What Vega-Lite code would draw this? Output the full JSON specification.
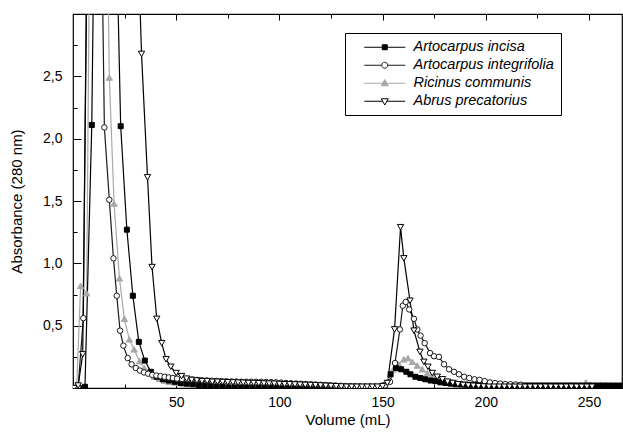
{
"$schema": "https://vega.github.io/schema/vega-lite/v6.json",
"width": 549, "height": 374,
"autosize": {"type": "none"},
"padding": {"left": 73, "top": 14, "right": 1, "bottom": 50},
"background": "white",
"config": {
  "view": {"stroke": "black", "strokeWidth": 1.2},
  "font": "Liberation Sans",
  "axis": {"grid": false, "domainColor": "black", "tickColor": "black", "labelColor": "black", "titleColor": "black", "labelFont": "Liberation Sans", "titleFont": "Liberation Sans", "labelFontSize": 14, "titleFontSize": 15, "titleFontWeight": "normal", "tickWidth": 1},
  "legend": {"title": null, "orient": "none", "legendX": 272, "legendY": 19, "padding": 7, "strokeColor": "black", "fillColor": "white", "symbolSize": 100, "labelOffset": 47, "labelFont": "Liberation Sans", "labelFontSize": 14.5, "labelFontStyle": "italic", "labelColor": "black", "rowPadding": 3, "symbolStrokeWidth": 1, "symbolOpacity": 1}
},
"data": {"values": [
{"series":"Ricinus communis","volume":0.5,"absorbance":0},
{"series":"Ricinus communis","volume":1.8,"absorbance":0.02},
{"series":"Ricinus communis","volume":3.7,"absorbance":0.82},
{"series":"Ricinus communis","volume":6.6,"absorbance":0.76},
{"series":"Ricinus communis","volume":9,"absorbance":5.5},
{"series":"Ricinus communis","volume":15.2,"absorbance":5.5},
{"series":"Ricinus communis","volume":17.6,"absorbance":2.49},
{"series":"Ricinus communis","volume":19.9,"absorbance":1.48},
{"series":"Ricinus communis","volume":22.5,"absorbance":0.88},
{"series":"Ricinus communis","volume":24.9,"absorbance":0.555},
{"series":"Ricinus communis","volume":27.3,"absorbance":0.39},
{"series":"Ricinus communis","volume":29.6,"absorbance":0.31},
{"series":"Ricinus communis","volume":32.2,"absorbance":0.215},
{"series":"Ricinus communis","volume":34.6,"absorbance":0.16},
{"series":"Ricinus communis","volume":37,"absorbance":0.12},
{"series":"Ricinus communis","volume":39.4,"absorbance":0.09},
{"series":"Ricinus communis","volume":41.8,"absorbance":0.075},
{"series":"Ricinus communis","volume":44.2,"absorbance":0.06},
{"series":"Ricinus communis","volume":46.6,"absorbance":0.05},
{"series":"Ricinus communis","volume":49,"absorbance":0.045},
{"series":"Ricinus communis","volume":51.4,"absorbance":0.04},
{"series":"Ricinus communis","volume":53.8,"absorbance":0.035},
{"series":"Ricinus communis","volume":56.2,"absorbance":0.03},
{"series":"Ricinus communis","volume":58.6,"absorbance":0.028},
{"series":"Ricinus communis","volume":61,"absorbance":0.025},
{"series":"Ricinus communis","volume":63.4,"absorbance":0.022},
{"series":"Ricinus communis","volume":65.8,"absorbance":0.02},
{"series":"Ricinus communis","volume":68.2,"absorbance":0.018},
{"series":"Ricinus communis","volume":70.6,"absorbance":0.016},
{"series":"Ricinus communis","volume":73,"absorbance":0.015},
{"series":"Ricinus communis","volume":75.4,"absorbance":0.014},
{"series":"Ricinus communis","volume":77.8,"absorbance":0.013},
{"series":"Ricinus communis","volume":80.2,"absorbance":0.012},
{"series":"Ricinus communis","volume":82.6,"absorbance":0.012},
{"series":"Ricinus communis","volume":85,"absorbance":0.012},
{"series":"Ricinus communis","volume":87.4,"absorbance":0.012},
{"series":"Ricinus communis","volume":89.8,"absorbance":0.012},
{"series":"Ricinus communis","volume":92.2,"absorbance":0.012},
{"series":"Ricinus communis","volume":94.6,"absorbance":0.012},
{"series":"Ricinus communis","volume":97,"absorbance":0.012},
{"series":"Ricinus communis","volume":99.4,"absorbance":0.012},
{"series":"Ricinus communis","volume":101.8,"absorbance":0.012},
{"series":"Ricinus communis","volume":104.2,"absorbance":0.012},
{"series":"Ricinus communis","volume":106.6,"absorbance":0.012},
{"series":"Ricinus communis","volume":109,"absorbance":0.012},
{"series":"Ricinus communis","volume":111.4,"absorbance":0.012},
{"series":"Ricinus communis","volume":113.8,"absorbance":0.012},
{"series":"Ricinus communis","volume":116.2,"absorbance":0.012},
{"series":"Ricinus communis","volume":118.6,"absorbance":0.012},
{"series":"Ricinus communis","volume":121,"absorbance":0.012},
{"series":"Ricinus communis","volume":123.4,"absorbance":0.012},
{"series":"Ricinus communis","volume":125.8,"absorbance":0.012},
{"series":"Ricinus communis","volume":128.2,"absorbance":0.012},
{"series":"Ricinus communis","volume":130.6,"absorbance":0.012},
{"series":"Ricinus communis","volume":133,"absorbance":0.012},
{"series":"Ricinus communis","volume":135.4,"absorbance":0.012},
{"series":"Ricinus communis","volume":137.8,"absorbance":0.012},
{"series":"Ricinus communis","volume":140.2,"absorbance":0.012},
{"series":"Ricinus communis","volume":142.6,"absorbance":0.012},
{"series":"Ricinus communis","volume":145,"absorbance":0.012},
{"series":"Ricinus communis","volume":147.4,"absorbance":0.014},
{"series":"Ricinus communis","volume":150,"absorbance":0.02},
{"series":"Ricinus communis","volume":152.6,"absorbance":0.06},
{"series":"Ricinus communis","volume":155.2,"absorbance":0.15},
{"series":"Ricinus communis","volume":157.9,"absorbance":0.19},
{"series":"Ricinus communis","volume":160.3,"absorbance":0.23},
{"series":"Ricinus communis","volume":162.3,"absorbance":0.24},
{"series":"Ricinus communis","volume":164.4,"absorbance":0.21},
{"series":"Ricinus communis","volume":166.8,"absorbance":0.18},
{"series":"Ricinus communis","volume":169.2,"absorbance":0.15},
{"series":"Ricinus communis","volume":171.7,"absorbance":0.12},
{"series":"Ricinus communis","volume":174,"absorbance":0.1},
{"series":"Ricinus communis","volume":176.4,"absorbance":0.08},
{"series":"Ricinus communis","volume":178.8,"absorbance":0.065},
{"series":"Ricinus communis","volume":181.2,"absorbance":0.055},
{"series":"Ricinus communis","volume":183.6,"absorbance":0.05},
{"series":"Ricinus communis","volume":186,"absorbance":0.045},
{"series":"Ricinus communis","volume":188.4,"absorbance":0.04},
{"series":"Ricinus communis","volume":190.8,"absorbance":0.036},
{"series":"Ricinus communis","volume":193.2,"absorbance":0.033},
{"series":"Ricinus communis","volume":195.6,"absorbance":0.03},
{"series":"Ricinus communis","volume":198,"absorbance":0.03},
{"series":"Ricinus communis","volume":200.4,"absorbance":0.028},
{"series":"Ricinus communis","volume":202.8,"absorbance":0.027},
{"series":"Ricinus communis","volume":205.2,"absorbance":0.026},
{"series":"Ricinus communis","volume":207.6,"absorbance":0.025},
{"series":"Ricinus communis","volume":210,"absorbance":0.025},
{"series":"Ricinus communis","volume":212.4,"absorbance":0.025},
{"series":"Ricinus communis","volume":214.8,"absorbance":0.025},
{"series":"Ricinus communis","volume":217.2,"absorbance":0.025},
{"series":"Ricinus communis","volume":219.6,"absorbance":0.025},
{"series":"Ricinus communis","volume":222,"absorbance":0.025},
{"series":"Ricinus communis","volume":224.4,"absorbance":0.024},
{"series":"Ricinus communis","volume":226.8,"absorbance":0.024},
{"series":"Ricinus communis","volume":229.2,"absorbance":0.024},
{"series":"Ricinus communis","volume":231.6,"absorbance":0.024},
{"series":"Ricinus communis","volume":234,"absorbance":0.024},
{"series":"Ricinus communis","volume":236.4,"absorbance":0.024},
{"series":"Ricinus communis","volume":238.8,"absorbance":0.024},
{"series":"Ricinus communis","volume":241.2,"absorbance":0.024},
{"series":"Ricinus communis","volume":243.6,"absorbance":0.025},
{"series":"Ricinus communis","volume":246,"absorbance":0.026},
{"series":"Ricinus communis","volume":248.5,"absorbance":0.045},
{"series":"Ricinus communis","volume":250.8,"absorbance":0.025},
{"series":"Ricinus communis","volume":253.2,"absorbance":0.024},
{"series":"Ricinus communis","volume":255.6,"absorbance":0.024},
{"series":"Artocarpus incisa","volume":0.5,"absorbance":0},
{"series":"Artocarpus incisa","volume":3,"absorbance":0},
{"series":"Artocarpus incisa","volume":5.8,"absorbance":0.01},
{"series":"Artocarpus incisa","volume":9.1,"absorbance":2.11},
{"series":"Artocarpus incisa","volume":11.5,"absorbance":5.5},
{"series":"Artocarpus incisa","volume":20.2,"absorbance":4.3},
{"series":"Artocarpus incisa","volume":23.1,"absorbance":2.1},
{"series":"Artocarpus incisa","volume":26.1,"absorbance":1.27},
{"series":"Artocarpus incisa","volume":29,"absorbance":0.74},
{"series":"Artocarpus incisa","volume":31.9,"absorbance":0.37},
{"series":"Artocarpus incisa","volume":34.8,"absorbance":0.22},
{"series":"Artocarpus incisa","volume":37.7,"absorbance":0.13},
{"series":"Artocarpus incisa","volume":40.6,"absorbance":0.09},
{"series":"Artocarpus incisa","volume":43.5,"absorbance":0.07},
{"series":"Artocarpus incisa","volume":46.4,"absorbance":0.06},
{"series":"Artocarpus incisa","volume":49.3,"absorbance":0.05},
{"series":"Artocarpus incisa","volume":52.2,"absorbance":0.04},
{"series":"Artocarpus incisa","volume":55.1,"absorbance":0.035},
{"series":"Artocarpus incisa","volume":58,"absorbance":0.03},
{"series":"Artocarpus incisa","volume":60.9,"absorbance":0.025},
{"series":"Artocarpus incisa","volume":63.8,"absorbance":0.02},
{"series":"Artocarpus incisa","volume":66.7,"absorbance":0.015},
{"series":"Artocarpus incisa","volume":69.6,"absorbance":0.01},
{"series":"Artocarpus incisa","volume":72.5,"absorbance":0.008},
{"series":"Artocarpus incisa","volume":75.4,"absorbance":0.005},
{"series":"Artocarpus incisa","volume":78.3,"absorbance":0.004},
{"series":"Artocarpus incisa","volume":81.2,"absorbance":0.003},
{"series":"Artocarpus incisa","volume":84.1,"absorbance":0.003},
{"series":"Artocarpus incisa","volume":87,"absorbance":0.002},
{"series":"Artocarpus incisa","volume":89.9,"absorbance":0.002},
{"series":"Artocarpus incisa","volume":92.8,"absorbance":0.002},
{"series":"Artocarpus incisa","volume":95.7,"absorbance":0.002},
{"series":"Artocarpus incisa","volume":98.6,"absorbance":0.002},
{"series":"Artocarpus incisa","volume":101.5,"absorbance":0.002},
{"series":"Artocarpus incisa","volume":104.4,"absorbance":0.002},
{"series":"Artocarpus incisa","volume":107.3,"absorbance":0.002},
{"series":"Artocarpus incisa","volume":110.2,"absorbance":0.002},
{"series":"Artocarpus incisa","volume":113.1,"absorbance":0.002},
{"series":"Artocarpus incisa","volume":116,"absorbance":0.002},
{"series":"Artocarpus incisa","volume":118.9,"absorbance":0.002},
{"series":"Artocarpus incisa","volume":121.8,"absorbance":0.002},
{"series":"Artocarpus incisa","volume":124.7,"absorbance":0.002},
{"series":"Artocarpus incisa","volume":127.6,"absorbance":0.002},
{"series":"Artocarpus incisa","volume":130.5,"absorbance":0.002},
{"series":"Artocarpus incisa","volume":133.4,"absorbance":0.002},
{"series":"Artocarpus incisa","volume":136.3,"absorbance":0.002},
{"series":"Artocarpus incisa","volume":139.2,"absorbance":0.002},
{"series":"Artocarpus incisa","volume":142.1,"absorbance":0.003},
{"series":"Artocarpus incisa","volume":145,"absorbance":0.003},
{"series":"Artocarpus incisa","volume":147.9,"absorbance":0.005},
{"series":"Artocarpus incisa","volume":150.8,"absorbance":0.02},
{"series":"Artocarpus incisa","volume":153.9,"absorbance":0.11},
{"series":"Artocarpus incisa","volume":156.5,"absorbance":0.16},
{"series":"Artocarpus incisa","volume":159,"absorbance":0.15},
{"series":"Artocarpus incisa","volume":161.5,"absorbance":0.13},
{"series":"Artocarpus incisa","volume":163.5,"absorbance":0.11},
{"series":"Artocarpus incisa","volume":165.9,"absorbance":0.09},
{"series":"Artocarpus incisa","volume":168.3,"absorbance":0.08},
{"series":"Artocarpus incisa","volume":170.7,"absorbance":0.07},
{"series":"Artocarpus incisa","volume":173.2,"absorbance":0.06},
{"series":"Artocarpus incisa","volume":175.6,"absorbance":0.055},
{"series":"Artocarpus incisa","volume":178,"absorbance":0.045},
{"series":"Artocarpus incisa","volume":180.5,"absorbance":0.04},
{"series":"Artocarpus incisa","volume":183,"absorbance":0.035},
{"series":"Artocarpus incisa","volume":185.5,"absorbance":0.03},
{"series":"Artocarpus incisa","volume":188,"absorbance":0.028},
{"series":"Artocarpus incisa","volume":190.5,"absorbance":0.026},
{"series":"Artocarpus incisa","volume":193,"absorbance":0.025},
{"series":"Artocarpus incisa","volume":195.5,"absorbance":0.024},
{"series":"Artocarpus incisa","volume":198,"absorbance":0.023},
{"series":"Artocarpus incisa","volume":200.5,"absorbance":0.022},
{"series":"Artocarpus incisa","volume":203,"absorbance":0.021},
{"series":"Artocarpus incisa","volume":205.5,"absorbance":0.02},
{"series":"Artocarpus incisa","volume":208,"absorbance":0.02},
{"series":"Artocarpus incisa","volume":210.5,"absorbance":0.02},
{"series":"Artocarpus incisa","volume":213,"absorbance":0.02},
{"series":"Artocarpus incisa","volume":215.5,"absorbance":0.02},
{"series":"Artocarpus incisa","volume":218,"absorbance":0.02},
{"series":"Artocarpus incisa","volume":220.5,"absorbance":0.02},
{"series":"Artocarpus incisa","volume":223,"absorbance":0.02},
{"series":"Artocarpus incisa","volume":225.5,"absorbance":0.02},
{"series":"Artocarpus incisa","volume":228,"absorbance":0.02},
{"series":"Artocarpus incisa","volume":230.5,"absorbance":0.02},
{"series":"Artocarpus incisa","volume":233,"absorbance":0.02},
{"series":"Artocarpus incisa","volume":235.5,"absorbance":0.02},
{"series":"Artocarpus incisa","volume":238,"absorbance":0.02},
{"series":"Artocarpus incisa","volume":240.5,"absorbance":0.02},
{"series":"Artocarpus incisa","volume":243,"absorbance":0.02},
{"series":"Artocarpus incisa","volume":245.5,"absorbance":0.02},
{"series":"Artocarpus incisa","volume":248,"absorbance":0.02},
{"series":"Artocarpus incisa","volume":250.5,"absorbance":0.02},
{"series":"Artocarpus incisa","volume":253,"absorbance":0.02},
{"series":"Artocarpus incisa","volume":255.5,"absorbance":0.02},
{"series":"Artocarpus incisa","volume":258,"absorbance":0.02},
{"series":"Artocarpus incisa","volume":260.5,"absorbance":0.02},
{"series":"Artocarpus incisa","volume":263,"absorbance":0.02},
{"series":"Artocarpus incisa","volume":265.5,"absorbance":0.02},
{"series":"Artocarpus integrifolia","volume":0.5,"absorbance":0},
{"series":"Artocarpus integrifolia","volume":2.5,"absorbance":0.01},
{"series":"Artocarpus integrifolia","volume":5,"absorbance":0.56},
{"series":"Artocarpus integrifolia","volume":7.5,"absorbance":5},
{"series":"Artocarpus integrifolia","volume":12.8,"absorbance":5},
{"series":"Artocarpus integrifolia","volume":15.2,"absorbance":2.09},
{"series":"Artocarpus integrifolia","volume":17.6,"absorbance":1.51},
{"series":"Artocarpus integrifolia","volume":19.6,"absorbance":1.04},
{"series":"Artocarpus integrifolia","volume":21.2,"absorbance":0.74},
{"series":"Artocarpus integrifolia","volume":22.8,"absorbance":0.46},
{"series":"Artocarpus integrifolia","volume":24.4,"absorbance":0.34},
{"series":"Artocarpus integrifolia","volume":26.5,"absorbance":0.24},
{"series":"Artocarpus integrifolia","volume":28.4,"absorbance":0.19},
{"series":"Artocarpus integrifolia","volume":30.4,"absorbance":0.16},
{"series":"Artocarpus integrifolia","volume":32.4,"absorbance":0.14},
{"series":"Artocarpus integrifolia","volume":34.4,"absorbance":0.125},
{"series":"Artocarpus integrifolia","volume":36.4,"absorbance":0.115},
{"series":"Artocarpus integrifolia","volume":38.4,"absorbance":0.105},
{"series":"Artocarpus integrifolia","volume":40.4,"absorbance":0.1},
{"series":"Artocarpus integrifolia","volume":42.4,"absorbance":0.095},
{"series":"Artocarpus integrifolia","volume":44.4,"absorbance":0.09},
{"series":"Artocarpus integrifolia","volume":46.4,"absorbance":0.085},
{"series":"Artocarpus integrifolia","volume":48.4,"absorbance":0.08},
{"series":"Artocarpus integrifolia","volume":50.4,"absorbance":0.075},
{"series":"Artocarpus integrifolia","volume":52.8,"absorbance":0.072},
{"series":"Artocarpus integrifolia","volume":55.2,"absorbance":0.07},
{"series":"Artocarpus integrifolia","volume":57.6,"absorbance":0.068},
{"series":"Artocarpus integrifolia","volume":60,"absorbance":0.065},
{"series":"Artocarpus integrifolia","volume":62.4,"absorbance":0.062},
{"series":"Artocarpus integrifolia","volume":64.8,"absorbance":0.06},
{"series":"Artocarpus integrifolia","volume":67.2,"absorbance":0.058},
{"series":"Artocarpus integrifolia","volume":69.6,"absorbance":0.056},
{"series":"Artocarpus integrifolia","volume":72,"absorbance":0.055},
{"series":"Artocarpus integrifolia","volume":74.4,"absorbance":0.054},
{"series":"Artocarpus integrifolia","volume":76.8,"absorbance":0.053},
{"series":"Artocarpus integrifolia","volume":79.2,"absorbance":0.052},
{"series":"Artocarpus integrifolia","volume":81.6,"absorbance":0.05},
{"series":"Artocarpus integrifolia","volume":84,"absorbance":0.05},
{"series":"Artocarpus integrifolia","volume":86.4,"absorbance":0.05},
{"series":"Artocarpus integrifolia","volume":88.8,"absorbance":0.05},
{"series":"Artocarpus integrifolia","volume":91.2,"absorbance":0.05},
{"series":"Artocarpus integrifolia","volume":93.6,"absorbance":0.048},
{"series":"Artocarpus integrifolia","volume":96,"absorbance":0.047},
{"series":"Artocarpus integrifolia","volume":98.4,"absorbance":0.045},
{"series":"Artocarpus integrifolia","volume":100.8,"absorbance":0.043},
{"series":"Artocarpus integrifolia","volume":103.2,"absorbance":0.04},
{"series":"Artocarpus integrifolia","volume":105.6,"absorbance":0.038},
{"series":"Artocarpus integrifolia","volume":108,"absorbance":0.036},
{"series":"Artocarpus integrifolia","volume":110.4,"absorbance":0.034},
{"series":"Artocarpus integrifolia","volume":112.8,"absorbance":0.032},
{"series":"Artocarpus integrifolia","volume":115.2,"absorbance":0.03},
{"series":"Artocarpus integrifolia","volume":117.6,"absorbance":0.028},
{"series":"Artocarpus integrifolia","volume":120,"absorbance":0.026},
{"series":"Artocarpus integrifolia","volume":122.4,"absorbance":0.024},
{"series":"Artocarpus integrifolia","volume":124.8,"absorbance":0.022},
{"series":"Artocarpus integrifolia","volume":127.2,"absorbance":0.02},
{"series":"Artocarpus integrifolia","volume":129.6,"absorbance":0.018},
{"series":"Artocarpus integrifolia","volume":132,"absorbance":0.016},
{"series":"Artocarpus integrifolia","volume":134.4,"absorbance":0.015},
{"series":"Artocarpus integrifolia","volume":136.8,"absorbance":0.014},
{"series":"Artocarpus integrifolia","volume":139.2,"absorbance":0.013},
{"series":"Artocarpus integrifolia","volume":141.6,"absorbance":0.012},
{"series":"Artocarpus integrifolia","volume":144,"absorbance":0.012},
{"series":"Artocarpus integrifolia","volume":146.4,"absorbance":0.012},
{"series":"Artocarpus integrifolia","volume":148.8,"absorbance":0.012},
{"series":"Artocarpus integrifolia","volume":151.2,"absorbance":0.02},
{"series":"Artocarpus integrifolia","volume":153.6,"absorbance":0.05},
{"series":"Artocarpus integrifolia","volume":156,"absorbance":0.2},
{"series":"Artocarpus integrifolia","volume":158.4,"absorbance":0.47},
{"series":"Artocarpus integrifolia","volume":159.8,"absorbance":0.66},
{"series":"Artocarpus integrifolia","volume":161.2,"absorbance":0.69},
{"series":"Artocarpus integrifolia","volume":162.9,"absorbance":0.63},
{"series":"Artocarpus integrifolia","volume":165.2,"absorbance":0.555},
{"series":"Artocarpus integrifolia","volume":166.8,"absorbance":0.47},
{"series":"Artocarpus integrifolia","volume":168.4,"absorbance":0.42},
{"series":"Artocarpus integrifolia","volume":170.4,"absorbance":0.36},
{"series":"Artocarpus integrifolia","volume":173,"absorbance":0.28},
{"series":"Artocarpus integrifolia","volume":174.9,"absorbance":0.255},
{"series":"Artocarpus integrifolia","volume":177.3,"absorbance":0.25},
{"series":"Artocarpus integrifolia","volume":179.8,"absorbance":0.19},
{"series":"Artocarpus integrifolia","volume":182.2,"absorbance":0.15},
{"series":"Artocarpus integrifolia","volume":184.6,"absorbance":0.13},
{"series":"Artocarpus integrifolia","volume":187,"absorbance":0.11},
{"series":"Artocarpus integrifolia","volume":189.5,"absorbance":0.09},
{"series":"Artocarpus integrifolia","volume":192,"absorbance":0.08},
{"series":"Artocarpus integrifolia","volume":194.5,"absorbance":0.07},
{"series":"Artocarpus integrifolia","volume":197,"absorbance":0.065},
{"series":"Artocarpus integrifolia","volume":199.5,"absorbance":0.055},
{"series":"Artocarpus integrifolia","volume":202,"absorbance":0.045},
{"series":"Artocarpus integrifolia","volume":204.5,"absorbance":0.04},
{"series":"Artocarpus integrifolia","volume":207,"absorbance":0.035},
{"series":"Artocarpus integrifolia","volume":209.5,"absorbance":0.032},
{"series":"Artocarpus integrifolia","volume":212,"absorbance":0.03},
{"series":"Artocarpus integrifolia","volume":214.5,"absorbance":0.028},
{"series":"Artocarpus integrifolia","volume":217,"absorbance":0.026},
{"series":"Abrus precatorius","volume":0.5,"absorbance":0},
{"series":"Abrus precatorius","volume":2.5,"absorbance":0.02},
{"series":"Abrus precatorius","volume":4.7,"absorbance":0.27},
{"series":"Abrus precatorius","volume":7.5,"absorbance":4.5},
{"series":"Abrus precatorius","volume":10,"absorbance":6},
{"series":"Abrus precatorius","volume":30.3,"absorbance":4.2},
{"series":"Abrus precatorius","volume":33.2,"absorbance":2.68},
{"series":"Abrus precatorius","volume":36.1,"absorbance":1.69},
{"series":"Abrus precatorius","volume":38.3,"absorbance":0.97},
{"series":"Abrus precatorius","volume":40.6,"absorbance":0.555},
{"series":"Abrus precatorius","volume":43,"absorbance":0.36},
{"series":"Abrus precatorius","volume":45.1,"absorbance":0.23},
{"series":"Abrus precatorius","volume":47.4,"absorbance":0.17},
{"series":"Abrus precatorius","volume":50,"absorbance":0.12},
{"series":"Abrus precatorius","volume":52.6,"absorbance":0.095},
{"series":"Abrus precatorius","volume":55,"absorbance":0.075},
{"series":"Abrus precatorius","volume":57.5,"absorbance":0.065},
{"series":"Abrus precatorius","volume":60,"absorbance":0.06},
{"series":"Abrus precatorius","volume":62.5,"absorbance":0.055},
{"series":"Abrus precatorius","volume":65,"absorbance":0.055},
{"series":"Abrus precatorius","volume":67.5,"absorbance":0.05},
{"series":"Abrus precatorius","volume":70,"absorbance":0.05},
{"series":"Abrus precatorius","volume":72.5,"absorbance":0.048},
{"series":"Abrus precatorius","volume":75,"absorbance":0.046},
{"series":"Abrus precatorius","volume":77.5,"absorbance":0.045},
{"series":"Abrus precatorius","volume":80,"absorbance":0.043},
{"series":"Abrus precatorius","volume":82.5,"absorbance":0.042},
{"series":"Abrus precatorius","volume":85,"absorbance":0.04},
{"series":"Abrus precatorius","volume":87.5,"absorbance":0.04},
{"series":"Abrus precatorius","volume":90,"absorbance":0.038},
{"series":"Abrus precatorius","volume":92.5,"absorbance":0.036},
{"series":"Abrus precatorius","volume":95,"absorbance":0.035},
{"series":"Abrus precatorius","volume":97.5,"absorbance":0.034},
{"series":"Abrus precatorius","volume":100,"absorbance":0.032},
{"series":"Abrus precatorius","volume":102.5,"absorbance":0.03},
{"series":"Abrus precatorius","volume":105,"absorbance":0.03},
{"series":"Abrus precatorius","volume":107.5,"absorbance":0.028},
{"series":"Abrus precatorius","volume":110,"absorbance":0.027},
{"series":"Abrus precatorius","volume":112.5,"absorbance":0.025},
{"series":"Abrus precatorius","volume":115,"absorbance":0.024},
{"series":"Abrus precatorius","volume":117.5,"absorbance":0.022},
{"series":"Abrus precatorius","volume":120,"absorbance":0.02},
{"series":"Abrus precatorius","volume":122.5,"absorbance":0.018},
{"series":"Abrus precatorius","volume":125,"absorbance":0.016},
{"series":"Abrus precatorius","volume":127.5,"absorbance":0.014},
{"series":"Abrus precatorius","volume":130,"absorbance":0.012},
{"series":"Abrus precatorius","volume":132.5,"absorbance":0.01},
{"series":"Abrus precatorius","volume":135,"absorbance":0.01},
{"series":"Abrus precatorius","volume":137.5,"absorbance":0.01},
{"series":"Abrus precatorius","volume":140,"absorbance":0.01},
{"series":"Abrus precatorius","volume":142.5,"absorbance":0.01},
{"series":"Abrus precatorius","volume":145,"absorbance":0.01},
{"series":"Abrus precatorius","volume":147.5,"absorbance":0.01},
{"series":"Abrus precatorius","volume":150,"absorbance":0.015},
{"series":"Abrus precatorius","volume":152.3,"absorbance":0.04},
{"series":"Abrus precatorius","volume":155.8,"absorbance":0.47},
{"series":"Abrus precatorius","volume":158.7,"absorbance":1.29},
{"series":"Abrus precatorius","volume":160.3,"absorbance":1.04},
{"series":"Abrus precatorius","volume":163.3,"absorbance":0.7},
{"series":"Abrus precatorius","volume":165.2,"absorbance":0.46},
{"series":"Abrus precatorius","volume":168.1,"absorbance":0.29},
{"series":"Abrus precatorius","volume":170,"absorbance":0.21},
{"series":"Abrus precatorius","volume":172,"absorbance":0.17},
{"series":"Abrus precatorius","volume":174.1,"absorbance":0.12},
{"series":"Abrus precatorius","volume":176.5,"absorbance":0.09},
{"series":"Abrus precatorius","volume":179,"absorbance":0.07},
{"series":"Abrus precatorius","volume":181.5,"absorbance":0.05},
{"series":"Abrus precatorius","volume":184,"absorbance":0.04},
{"series":"Abrus precatorius","volume":186.5,"absorbance":0.03},
{"series":"Abrus precatorius","volume":189,"absorbance":0.025},
{"series":"Abrus precatorius","volume":191.5,"absorbance":0.02},
{"series":"Abrus precatorius","volume":194,"absorbance":0.018},
{"series":"Abrus precatorius","volume":196.5,"absorbance":0.015},
{"series":"Abrus precatorius","volume":199,"absorbance":0.012},
{"series":"Abrus precatorius","volume":201.5,"absorbance":0.01},
{"series":"Abrus precatorius","volume":204,"absorbance":0.01},
{"series":"Abrus precatorius","volume":206.5,"absorbance":0.01},
{"series":"Abrus precatorius","volume":209,"absorbance":0.01},
{"series":"Abrus precatorius","volume":211.5,"absorbance":0.01},
{"series":"Abrus precatorius","volume":214,"absorbance":0.01},
{"series":"Abrus precatorius","volume":216.5,"absorbance":0.01},
{"series":"Abrus precatorius","volume":219,"absorbance":0.01},
{"series":"Abrus precatorius","volume":221.5,"absorbance":0.01},
{"series":"Abrus precatorius","volume":224,"absorbance":0.01},
{"series":"Abrus precatorius","volume":226.5,"absorbance":0.01},
{"series":"Abrus precatorius","volume":229,"absorbance":0.01},
{"series":"Abrus precatorius","volume":231.5,"absorbance":0.01},
{"series":"Abrus precatorius","volume":234,"absorbance":0.01},
{"series":"Abrus precatorius","volume":236.5,"absorbance":0.01},
{"series":"Abrus precatorius","volume":239,"absorbance":0.01},
{"series":"Abrus precatorius","volume":241.5,"absorbance":0.01},
{"series":"Abrus precatorius","volume":244,"absorbance":0.01},
{"series":"Abrus precatorius","volume":246.5,"absorbance":0.01},
{"series":"Abrus precatorius","volume":249,"absorbance":0.01},
{"series":"Abrus precatorius","volume":251.5,"absorbance":0.01}
]},
"layer": [
  {
    "mark": {"type": "line", "clip": true, "strokeWidth": 1.2},
    "encoding": {
      "x": {"field": "volume", "type": "quantitative", "scale": {"domain": [0, 266], "nice": false, "zero": false},
            "axis": {"orient": "bottom", "values": [50, 100, 150, 200, 250], "ticks": false, "domain": false, "labelPadding": 7, "title": "Volume (mL)", "titlePadding": 3}},
      "y": {"field": "absorbance", "type": "quantitative", "scale": {"domain": [0, 3], "nice": false},
            "axis": {"orient": "left", "values": [0.5, 1, 1.5, 2, 2.5], "ticks": false, "domain": false, "labelPadding": 11, "labelExpr": "replace(format(datum.value, '.1f'), '.', ',')", "title": "Absorbance (280 nm)", "titlePadding": 18}},
      "stroke": {"field": "series", "type": "nominal",
                 "scale": {"domain": ["Artocarpus incisa", "Artocarpus integrifolia", "Ricinus communis", "Abrus precatorius"], "range": ["#000000", "#1a1a1a", "#a8a8a8", "#000000"]},
                 "legend": {"symbolType": {"expr": "datum.value === 'Artocarpus incisa' ? 'M1,0H9.2M4.6,-0.5H5.6V0.5H4.6Z' : datum.value === 'Artocarpus integrifolia' ? 'M1,0H4.5M5.7,0H9.2M4.5,0A0.6,0.6 0 1,0 5.7,0A0.6,0.6 0 1,0 4.5,0Z' : datum.value === 'Ricinus communis' ? 'M1,0H9.2M5.1,-0.75L5.8,0.5L4.4,0.5Z' : 'M1,0H4.68M5.52,0H9.2M4.4,-0.5L5.8,-0.5L5.1,0.75Z'"}}}
    }
  },
  {
    "transform": [{"filter": "datum.series === 'Ricinus communis'"}],
    "mark": {"type": "point", "shape": "triangle-up", "size": 40, "clip": true, "strokeWidth": 1, "opacity": 1},
    "encoding": {
      "x": {"field": "volume", "type": "quantitative",
            "axis": {"orient": "bottom", "values": [0, 50, 100, 150, 200, 250], "labels": false, "tickSize": -6, "title": null, "domain": false}},
      "y": {"field": "absorbance", "type": "quantitative",
            "axis": {"orient": "left", "values": [0.5, 1, 1.5, 2, 2.5], "labels": false, "tickSize": -8, "title": null, "domain": false}},
      "stroke": {"field": "series", "type": "nominal",
                 "scale": {"domain": ["Artocarpus incisa", "Artocarpus integrifolia", "Ricinus communis", "Abrus precatorius"], "range": ["#000000", "#1a1a1a", "#a8a8a8", "#000000"]},
                 "legend": {"symbolType": {"expr": "datum.value === 'Artocarpus incisa' ? 'M1,0H9.2M4.6,-0.5H5.6V0.5H4.6Z' : datum.value === 'Artocarpus integrifolia' ? 'M1,0H4.5M5.7,0H9.2M4.5,0A0.6,0.6 0 1,0 5.7,0A0.6,0.6 0 1,0 4.5,0Z' : datum.value === 'Ricinus communis' ? 'M1,0H9.2M5.1,-0.75L5.8,0.5L4.4,0.5Z' : 'M1,0H4.68M5.52,0H9.2M4.4,-0.5L5.8,-0.5L5.1,0.75Z'"}}},
      "fill": {"field": "series", "type": "nominal",
               "scale": {"domain": ["Artocarpus incisa", "Artocarpus integrifolia", "Ricinus communis", "Abrus precatorius"], "range": ["#000000", "#ffffff", "#a8a8a8", "#ffffff"]},
               "legend": {"symbolType": {"expr": "datum.value === 'Artocarpus incisa' ? 'M1,0H9.2M4.6,-0.5H5.6V0.5H4.6Z' : datum.value === 'Artocarpus integrifolia' ? 'M1,0H4.5M5.7,0H9.2M4.5,0A0.6,0.6 0 1,0 5.7,0A0.6,0.6 0 1,0 4.5,0Z' : datum.value === 'Ricinus communis' ? 'M1,0H9.2M5.1,-0.75L5.8,0.5L4.4,0.5Z' : 'M1,0H4.68M5.52,0H9.2M4.4,-0.5L5.8,-0.5L5.1,0.75Z'"}}}
    }
  },
  {
    "transform": [{"filter": "datum.series === 'Artocarpus incisa'"}],
    "mark": {"type": "point", "shape": "square", "size": 25, "clip": true, "strokeWidth": 1, "opacity": 1},
    "encoding": {
      "x": {"field": "volume", "type": "quantitative", "axis": null},
      "y": {"field": "absorbance", "type": "quantitative", "axis": null},
      "stroke": {"field": "series", "type": "nominal"},
      "fill": {"field": "series", "type": "nominal"}
    }
  },
  {
    "transform": [{"filter": "datum.series === 'Artocarpus integrifolia'"}],
    "mark": {"type": "point", "shape": "circle", "size": 30, "clip": true, "strokeWidth": 1, "opacity": 1},
    "encoding": {
      "x": {"field": "volume", "type": "quantitative", "axis": null},
      "y": {"field": "absorbance", "type": "quantitative", "axis": null},
      "stroke": {"field": "series", "type": "nominal"},
      "fill": {"field": "series", "type": "nominal"}
    }
  },
  {
    "transform": [{"filter": "datum.series === 'Abrus precatorius'"}],
    "mark": {"type": "point", "shape": "triangle-down", "size": 40, "clip": true, "strokeWidth": 1, "opacity": 1},
    "encoding": {
      "x": {"field": "volume", "type": "quantitative", "axis": null},
      "y": {"field": "absorbance", "type": "quantitative", "axis": null},
      "stroke": {"field": "series", "type": "nominal"},
      "fill": {"field": "series", "type": "nominal"}
    }
  },
  {
    "data": {"values": [{"volume": 0, "absorbance": 0}]},
    "mark": {"type": "point", "opacity": 0},
    "encoding": {
      "x": {"field": "volume", "type": "quantitative", "axis": {"orient": "bottom", "values": [25, 75, 125, 175, 225], "labels": false, "tickSize": -4, "title": null, "domain": false}},
      "y": {"field": "absorbance", "type": "quantitative", "axis": {"orient": "left", "values": [0.25, 0.75, 1.25, 1.75, 2.25, 2.75], "labels": false, "tickSize": -4, "title": null, "domain": false}}
    }
  },
  {
    "data": {"values": [{"volume": 0, "absorbance": 0}]},
    "mark": {"type": "point", "opacity": 0},
    "encoding": {
      "x": {"field": "volume", "type": "quantitative", "axis": {"orient": "top", "values": [50, 100, 150, 200, 250], "labels": false, "tickSize": -6, "title": null, "domain": false}},
      "y": {"field": "absorbance", "type": "quantitative", "axis": null}
    }
  },
  {
    "data": {"values": [{"volume": 0, "absorbance": 0}]},
    "mark": {"type": "point", "opacity": 0},
    "encoding": {
      "x": {"field": "volume", "type": "quantitative", "axis": {"orient": "top", "values": [25, 75, 125, 175, 225], "labels": false, "tickSize": -4, "title": null, "domain": false}},
      "y": {"field": "absorbance", "type": "quantitative", "axis": null}
    }
  }
],
"resolve": {"axis": {"x": "independent", "y": "independent"}}
}
